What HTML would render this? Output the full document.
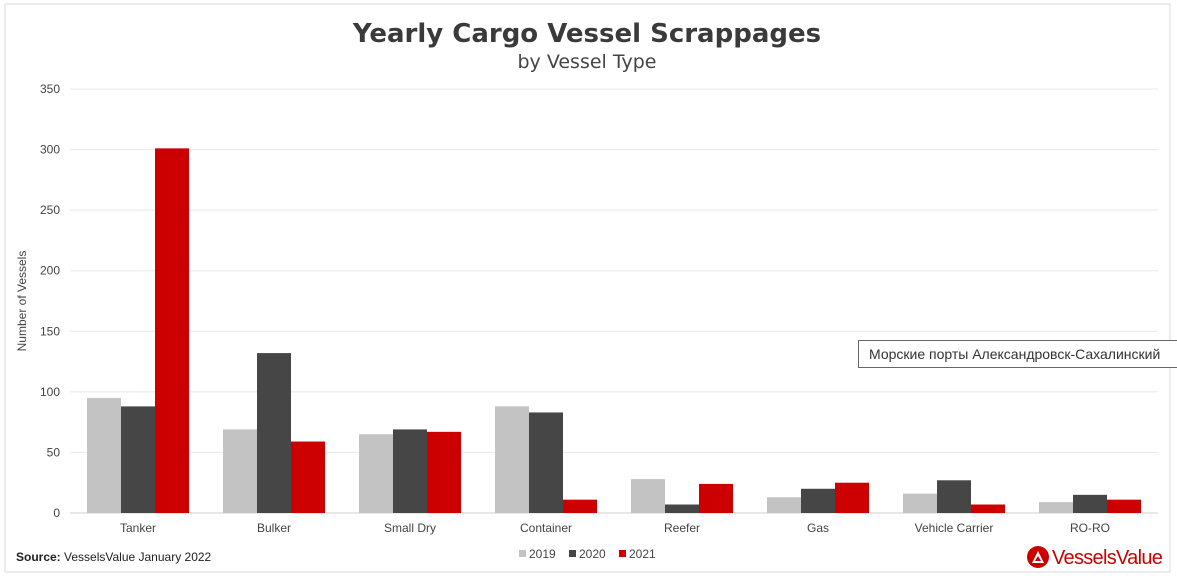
<!DOCTYPE html>
<html><head><meta charset="utf-8"><style>
body{margin:0;background:#fff;width:1177px;height:576px;overflow:hidden;font-family:"Liberation Sans","DejaVu Sans",sans-serif}
</style></head><body>
<svg width="1177" height="576" style="position:absolute;left:0;top:0">
<rect x="5" y="4" width="1165" height="568" fill="#fff" stroke="#d9d9d9"/>
<text x="587" y="42" text-anchor="middle" font-size="26" font-weight="bold" fill="#3a3a3a" font-family="DejaVu Sans, sans-serif">Yearly Cargo Vessel Scrappages</text>
<text x="587" y="68" text-anchor="middle" font-size="19" fill="#444" font-family="DejaVu Sans, sans-serif">by Vessel Type</text>
<g id="grid"></g><g id="bars"></g><g id="xl"></g>
<text transform="translate(26,301) rotate(-90)" text-anchor="middle" font-size="12" fill="#444">Number of Vessels</text>
<text x="16" y="561" font-size="12" fill="#222"><tspan font-weight="bold">Source:</tspan> VesselsValue January 2022</text>
<g font-size="12" fill="#444">
<rect x="519" y="550" width="7" height="7" fill="#c3c3c3"/><text x="529" y="558">2019</text>
<rect x="569" y="550" width="7" height="7" fill="#464646"/><text x="579" y="558">2020</text>
<rect x="619" y="550" width="7" height="7" fill="#cc0000"/><text x="629" y="558">2021</text>
</g>
<g>
<circle cx="1038" cy="557" r="11" fill="#cc0000"/><polygon points="1032,563 1044,563 1038,551" fill="#fff"/><polygon points="1035,561 1041,561 1038,556" fill="#cc0000"/>
<text x="1052" y="564" font-size="20" fill="#cc0000" letter-spacing="-0.7">VesselsValue</text></g>
</svg>
<div style="position:absolute;left:858px;top:340px;width:330px;height:28px;border:1px solid #666;background:#fff;font-size:14px;line-height:27px;padding-left:10px;color:#333;white-space:nowrap;box-sizing:border-box">Морские порты Александровск-Сахалинский</div>
<script>
const categories=["Tanker","Bulker","Small Dry","Container","Reefer","Gas","Vehicle Carrier","RO-RO"];
const s2019=[95,69,65,88,28,13,16,9];
const s2020=[88,132,69,83,7,20,27,15];
const s2021=[301,59,67,11,24,25,7,11];
const yTicks=[0,50,100,150,200,250,300,350];
const NS="http://www.w3.org/2000/svg";
const x0=70,x1=1158,y0=513,y1=89,ymax=350;
const y=v=>y0-(v/ymax)*(y0-y1);
const band=(x1-x0)/categories.length;
const cx=i=>x0+band*(i+0.5);
function mk(t,a,p){const e=document.createElementNS(NS,t);for(const k in a)e.setAttribute(k,a[k]);p.appendChild(e);return e;}
const g=document.getElementById('grid'),b=document.getElementById('bars'),xl=document.getElementById('xl');
yTicks.forEach(v=>{
 const l=mk('line',{x1:x0,x2:x1,y1:y(v),y2:y(v),stroke:v===0?'#d0d0d0':'#e8e8e8'},g);
 
 
 const t=mk('text',{x:60,y:y(v)+4,'text-anchor':'end','font-size':12,fill:'#444'},g);
 t.textContent=v;
 
 
});
const series=[[s2019,'#c3c3c3','2019'],[s2020,'#464646','2020'],[s2021,'#cc0000','2021']];
const bw=34;
categories.forEach((c,i)=>{
 series.forEach(([d,col,n],j)=>{
  const r=mk('rect',{x:cx(i)-1.5*bw+j*bw,y:y(d[i]),width:bw,height:y0-y(d[i]),fill:col},b);
  
  
 });
 const t=mk('text',{x:cx(i),y:532,'text-anchor':'middle','font-size':12,fill:'#444'},xl);
 t.textContent=c;
 
 
});
</script>
</body></html>
